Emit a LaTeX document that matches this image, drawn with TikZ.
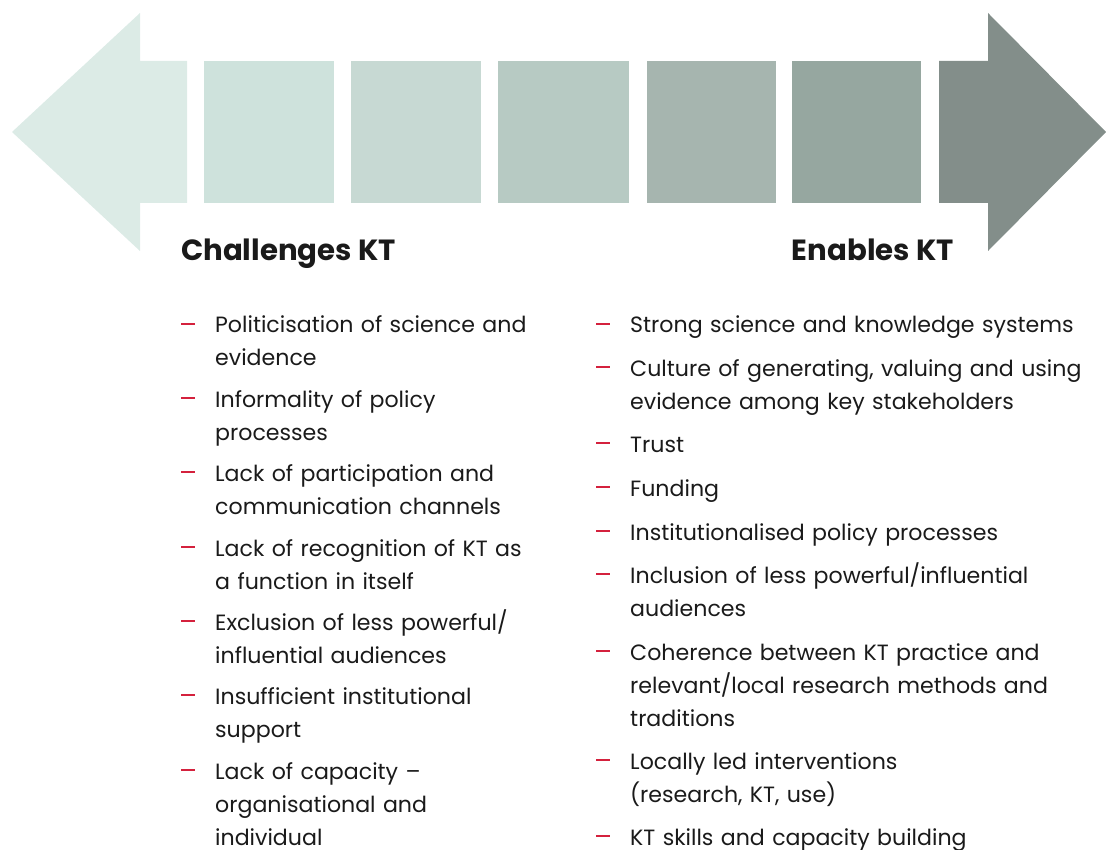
\documentclass[tikz,border=0pt]{standalone}
\usepackage{fontspec}
\setmainfont{Poppins}
\definecolor{cA}{HTML}{DCEBE6}
\definecolor{cB}{HTML}{CEE2DC}
\definecolor{cC}{HTML}{C7D9D3}
\definecolor{cD}{HTML}{B7CAC3}
\definecolor{cE}{HTML}{A6B5AF}
\definecolor{cF}{HTML}{96A7A0}
\definecolor{cG}{HTML}{838E8A}
\definecolor{dashred}{HTML}{D4213D}
\definecolor{ink}{HTML}{1A1A1A}
\tikzset{
  heading/.style={anchor=base west,inner sep=0pt,font=\fontsize{29.2}{34}\selectfont\bfseries,text=ink},
  itemtxt/.style={anchor=base west,inner sep=0pt,text width=460pt,align=left,font=\fontsize{22.1}{33}\selectfont,text=ink},
  dashline/.style={draw=dashred,line width=2.2pt}
}
\newcommand\kitem[4]{%
  \node[itemtxt] (#1) at (#2,#3) {#4};
  \draw[dashline] ([xshift=-34pt,yshift=9pt]#1.base west) -- ++(14,0);}
\begin{document}
\begin{tikzpicture}[x=1pt,y=-1pt]
\useasboundingbox (0,0) rectangle (1106,850);
% arrow band
\fill[cA] (12,132) -- (140,13) -- (140,61) -- (187,61) -- (187,203) -- (140,203) -- (140,251) -- cycle;
\fill[cB] (204,61) rectangle (334,203);
\fill[cC] (351,61) rectangle (481,203);
\fill[cD] (498,61) rectangle (629,203);
\fill[cE] (647,61) rectangle (776,203);
\fill[cF] (792,61) rectangle (921,203);
\fill[cG] (939,61) -- (988,61) -- (988,13) -- (1106,132) -- (988,251) -- (988,203) -- (939,203) -- cycle;
% headings
\node[heading] (hl) at (181,261) {Challenges KT};
\node[heading,anchor=base east] (hr) at (954,261) {Enables KT};
% left column
\kitem{l1}{215}{333}{Politicisation of science and\\evidence}
\kitem{l2}{215}{407}{Informality of policy\\processes}
\kitem{l3}{215}{481}{Lack of participation and\\communication channels}
\kitem{l4}{215}{556}{Lack of recognition of KT as\\a function in itself}
\kitem{l5}{215}{630}{Exclusion of less powerful/\\influential audiences}
\kitem{l6}{215}{704}{Insufficient institutional\\support}
\kitem{l7}{215}{779}{Lack of capacity –\\organisational and\\individual}
% right column
\kitem{r1}{630}{333}{Strong science and knowledge systems}
\kitem{r2}{630}{376}{Culture of generating, valuing and using\\evidence among key stakeholders}
\kitem{r3}{630}{452}{Trust}
\kitem{r4}{630}{496}{Funding}
\kitem{r5}{630}{540}{Institutionalised policy processes}
\kitem{r6}{630}{583}{Inclusion of less powerful/influential\\audiences}
\kitem{r7}{630}{660}{Coherence between KT practice and\\relevant/local research methods and\\traditions}
\kitem{r8}{630}{769}{Locally led interventions\\(research, KT, use)}
\kitem{r9}{630}{845}{KT skills and capacity building}
\end{tikzpicture}
\end{document}
